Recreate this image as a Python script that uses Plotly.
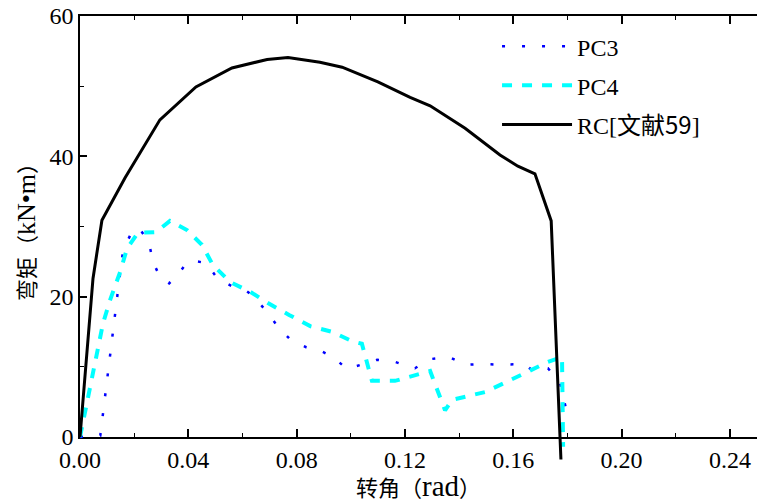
import plotly.graph_objects as go

# ---- data ----
rc_x = [0, 0.0048, 0.0081, 0.0166, 0.0295, 0.0428, 0.0561, 0.0691, 0.0768, 0.0886,
        0.0968, 0.110, 0.1219, 0.1293, 0.1422, 0.1551, 0.1617, 0.168, 0.174, 0.1776]
rc_y = [0, 22.6, 30.9, 36.9, 45.2, 49.9, 52.6, 53.8, 54.1, 53.4,
        52.7, 50.6, 48.4, 47.2, 44.0, 40.2, 38.6, 37.5, 30.8, -3.2]

pc4_x = [0, 0.0025, 0.0085, 0.0111, 0.0148, 0.0174, 0.0214, 0.0281, 0.0332, 0.0395,
         0.045, 0.0491, 0.0554, 0.0628, 0.0694, 0.0772, 0.085, 0.093, 0.1008, 0.1041,
         0.1078, 0.1163, 0.1293, 0.1348, 0.1374, 0.1496, 0.157, 0.1643, 0.1728, 0.178, 0.1784]
pc4_y = [0, 4.8, 16.2, 19.5, 23.5, 26.9, 29.1, 29.2, 30.8, 29.5,
         27.4, 24.5, 22.1, 20.7, 19.1, 17.4, 15.8, 15.0, 13.6, 13.3,
         8.0, 8.0, 9.4, 3.8, 5.3, 6.4, 7.7, 9.1, 10.7, 11.4, -1.4]

pc3_x = [0, 0.0075, 0.014, 0.0159, 0.0191, 0.0218, 0.0254, 0.027, 0.0298, 0.0329,
         0.0361, 0.0395, 0.0421, 0.0465, 0.051, 0.0561, 0.0612, 0.0639, 0.0691, 0.0731,
         0.0779, 0.0835, 0.0883, 0.0934, 0.0986, 0.1045, 0.1097, 0.1163, 0.1237, 0.1293,
         0.1363, 0.1425, 0.1485, 0.1551, 0.1643, 0.1669, 0.1728, 0.1773, 0.1802]
pc3_y = [0, 0.2, 20.8, 26.6, 29.2, 29.8, 27.8, 24.9, 22.6, 21.9,
         23.1, 24.9, 25.1, 24.8, 22.5, 21.5, 20.9, 20.1, 17.8, 15.7,
         13.8, 12.8, 12.4, 11.4, 9.7, 10.4, 11.0, 10.7, 9.8, 11.1,
         11.4, 10.3, 10.4, 10.3, 10.4, 9.5, 9.8, 7.7, 2.8]

x_ticks = [0, 0.04, 0.08, 0.12, 0.16, 0.20, 0.24]
x_ticklabels = ["0.00", "0.04", "0.08", "0.12", "0.16", "0.20", "0.24"]
y_ticks = [0, 20, 40, 60]
y_ticklabels = ["0", "20", "40", "60"]

CJK = "Noto Sans CJK SC"
names = ["PC3", "PC4", f"RC[<span style='font-family:{CJK}'>文献59</span>]"]
x_title = (f"<span style='font-family:{CJK};font-size:22px'>转角（</span>rad"
           f"<span style='font-family:{CJK};font-size:22px'>）</span>")
y_title = (f"<span style='font-family:{CJK};font-size:22px'>弯矩（</span>kN•m"
           f"<span style='font-family:{CJK};font-size:22px'>）</span>")

FONT = "Liberation Serif, Times New Roman, serif"

W, H = 757, 502
TOP, AXIS_B, CLIP_B = 16, 437, 462
plot_h = CLIP_B - TOP
y_dom0 = (CLIP_B - AXIS_B) / plot_h
y_min2 = -60 * (CLIP_B - AXIS_B) / (AXIS_B - TOP)

fig = go.Figure()
# empty helper trace so that the visible x/y axes subplot exists
fig.add_trace(go.Scatter(x=[None], y=[None], mode="lines", showlegend=False,
                         hoverinfo="skip", xaxis="x", yaxis="y"))
fig.add_trace(go.Scatter(x=pc3_x, y=pc3_y, mode="lines", name=names[0], yaxis="y2",
                         legendgroup="a",
                         line=dict(color="#0000FF", width=2.5, dash="3px,17px")))
fig.add_trace(go.Scatter(x=pc4_x, y=pc4_y, mode="lines", name=names[1], yaxis="y2",
                         legendgroup="b",
                         line=dict(color="#00FFFF", width=4, dash="10px,10px")))
fig.add_trace(go.Scatter(x=rc_x, y=rc_y, mode="lines", name=names[2], yaxis="y2",
                         legendgroup="c",
                         line=dict(color="#000000", width=3)))

fig.update_layout(
    width=W, height=H,
    margin=dict(l=80, r=0, t=TOP, b=H - CLIP_B, autoexpand=False),
    paper_bgcolor="white", plot_bgcolor="rgba(0,0,0,0)",
    font=dict(family=FONT, size=24, color="black"),
    showlegend=True,
    legend=dict(x=0.616, y=0.982, xanchor="left", yanchor="top",
                bgcolor="rgba(0,0,0,0)", borderwidth=0,
                font=dict(family=FONT, size=24, color="black"),
                traceorder="grouped", tracegroupgap=5, itemwidth=70),
    xaxis=dict(range=[0, 0.25], anchor="y", tickvals=x_ticks, ticktext=x_ticklabels,
               ticks="inside", ticklen=8, tickwidth=1.5, tickcolor="black",
               minor=dict(ticks="inside", ticklen=4, tickwidth=1.2, dtick=0.02, tickcolor="black"),
               showline=True, linecolor="black", linewidth=1.5, mirror="ticks",
               showgrid=False, zeroline=False, automargin=False,
               tickfont=dict(family=FONT, size=24, color="black"),
               title=dict(text=x_title, font=dict(family=FONT, size=29, color="black"), standoff=2)),
    yaxis=dict(range=[0, 60], domain=[y_dom0, 1], anchor="x",
               tickvals=y_ticks, ticktext=y_ticklabels,
               ticks="inside", ticklen=7, tickwidth=1.5, tickcolor="black",
               minor=dict(ticks="inside", ticklen=4, tickwidth=1.2, dtick=10, tickcolor="black"),
               showline=True, linecolor="black", linewidth=1.5, mirror=True,
               showgrid=False, zeroline=False, automargin=False,
               tickfont=dict(family=FONT, size=24, color="black"),
               title=dict(text=y_title, font=dict(family=FONT, size=26, color="black"), standoff=6)),
    yaxis2=dict(range=[y_min2, 60], domain=[0, 1], anchor="x", visible=False,
                showgrid=False, zeroline=False),
)

fig.write_html("out.html", config={"displayModeBar": False},
               post_script="document.body.style.margin='0';document.body.style.overflow='hidden';")
